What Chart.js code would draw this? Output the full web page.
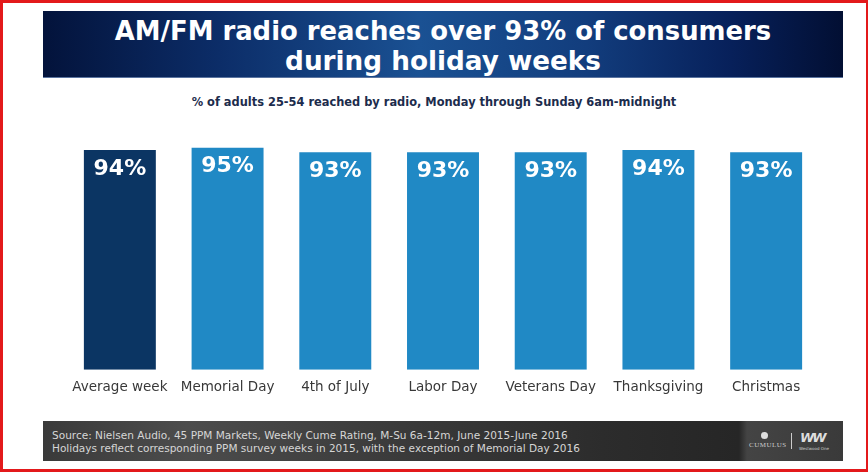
<!DOCTYPE html>
<html>
<head>
<meta charset="utf-8">
<script src="https://cdn.jsdelivr.net/npm/chart.js@4.4.1/dist/chart.umd.min.js"></script>
<style>
  html, body { margin:0; padding:0; background:#fff; }
  #page { position:relative; width:868px; height:472px; overflow:hidden; background:#fff; font-family:"DejaVu Sans", sans-serif; }
  #frame { position:absolute; left:0; top:0; width:868px; height:472px; box-sizing:border-box; border:3px solid #e3191b; border-right-width:2px; pointer-events:none; z-index:5; }
  #banner { position:absolute; left:43px; top:11px; width:800px; height:67px;
    background:linear-gradient(90deg,#03133b 0%,#0c2d68 22%,#1a5193 47%,#123d7d 68%,#07205a 86%,#020f33 100%);
    border-bottom:1px solid #5a74a0; box-sizing:border-box; }
  .tline { position:absolute; left:0; width:800px; text-align:center; color:#fff; font-weight:bold; white-space:nowrap; line-height:1; }
  #t1 { top:8px; } #t2 { top:37px; }
  #sub { position:absolute; left:0; width:868px; top:97px; text-align:center; color:#1c2c4c; font-weight:bold; white-space:nowrap; line-height:1; }
  #footer { position:absolute; left:43px; top:421px; width:800px; height:40px;
    background:linear-gradient(90deg,#3a3a3a 0%,#4c4c4c 18%,#3a3a3a 45%,#2c2c2c 70%,#262626 87%,#444 88%,#3a3a3a 100%); }
  .fline { position:absolute; left:9px; color:#d6d6d6; white-space:nowrap; line-height:1; }
  #f1 { top:9px; } #f2 { top:22px; }
  #logo1 { position:absolute; left:706px; top:20px; font-family:"Liberation Serif",serif; font-size:7px; color:#ccc; letter-spacing:0.5px; }
  #logo1dot { position:absolute; left:718px; top:11px; width:7px; height:7px; border-radius:50%; background:#ddd; }
  #logodiv { position:absolute; left:748px; top:12px; width:1px; height:16px; background:#ccc; }
  #logo2 { position:absolute; left:757px; top:9px; font-size:13px; font-weight:bold; color:#ddd; letter-spacing:-2px; font-style:italic; }
  #logo2s { position:absolute; left:756px; top:25px; font-size:4px; color:#ccc; }
  #chartbox { position:absolute; left:0; top:120px; width:868px; height:290px; }
</style>
</head>
<body>
<div id="page">
  <div id="banner">
    <div class="tline" id="t1">AM/FM radio reaches over 93% of consumers</div>
    <div class="tline" id="t2">during holiday weeks</div>
  </div>
  <div id="sub">% of adults 25-54 reached by radio, Monday through Sunday 6am-midnight</div>
  <div id="chartbox"><canvas id="c" width="868" height="290"></canvas></div>
  <div id="footer">
    <div class="fline" id="f1">Source: Nielsen Audio, 45 PPM Markets, Weekly Cume Rating, M-Su  6a-12m, June 2015-June  2016</div>
    <div class="fline" id="f2">Holidays reflect corresponding PPM survey weeks in 2015, with the exception of Memorial Day 2016</div>
    <div id="logo1dot"></div>
    <div id="logo1">CUMULUS</div>
    <div id="logodiv"></div>
    <div id="logo2">WW</div>
    <div id="logo2s">Westwood One</div>
  </div>
  <div id="frame"></div>
</div>
<script>
// ---- data ----
const categories = ["Average week","Memorial Day","4th of July","Labor Day","Veterans Day","Thanksgiving","Christmas"];
const reach = [94, 95, 93, 93, 93, 94, 93];
const barColors = ["#0b3563","#2089c5","#2089c5","#2089c5","#2089c5","#2089c5","#2089c5"];

// ---- fit text widths ----
function fit(id, targetWidth, startSize) {
  const el = document.getElementById(id);
  el.style.fontSize = startSize + "px";
  const span = document.createElement("span");
  span.textContent = el.textContent; el.textContent = ""; el.appendChild(span);
  const w = span.getBoundingClientRect().width;
  el.style.fontSize = (startSize * targetWidth / w).toFixed(2) + "px";
}
fit("t1", 657, 28);
fit("t2", 316, 28);
fit("sub", 485, 12);
fit("f1", 516, 11);
fit("f2", 528, 11);

// ---- chart ----
const valueLabels = {
  id: "valueLabels",
  afterDatasetsDraw(chart) {
    const ctx = chart.ctx;
    const meta = chart.getDatasetMeta(0);
    ctx.save();
    ctx.fillStyle = "#ffffff";
    ctx.font = "bold 22px 'DejaVu Sans', sans-serif";
    ctx.textAlign = "center";
    ctx.textBaseline = "middle";
    meta.data.forEach((bar, i) => {
      ctx.fillText(reach[i] + "%", bar.x, bar.y + 19);
    });
    ctx.restore();
  }
};

new Chart(document.getElementById("c"), {
  type: "bar",
  data: {
    labels: categories,
    datasets: [{ data: reach, backgroundColor: barColors, borderWidth: 0,
      categoryPercentage: 1.0, barPercentage: 0.668 }]
  },
  options: {
    responsive: false,
    animation: false,
    events: [],
    layout: { padding: { left: 66, right: 48, top: 16, bottom: 4 } },
    plugins: { legend: { display: false }, tooltip: { enabled: false } },
    scales: {
      y: { display: false, min: 0, max: 100 },
      x: {
        grid: { display: false, drawTicks: false },
        border: { display: false },
        ticks: { color: "#383838", font: { family: "'DejaVu Sans', sans-serif", size: 13.5 }, padding: 10, maxRotation: 0, autoSkip: false }
      }
    }
  },
  plugins: [valueLabels]
});
</script>
</body>
</html>
